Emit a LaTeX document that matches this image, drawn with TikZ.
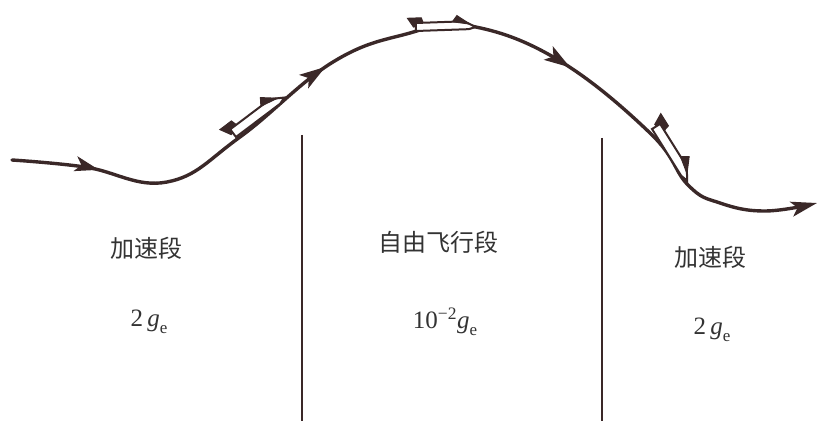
\documentclass[tikz,border=0pt]{standalone}
\usepackage{fontspec}
\setmainfont{Liberation Serif}
\newfontfamily\cjk{Noto Sans CJK SC}
\usetikzlibrary{decorations.markings,arrows.meta}
\definecolor{ink}{HTML}{3A2828}
\definecolor{txt}{HTML}{333333}
\newcommand\gsub{\textit{g}\raisebox{-0.3em}{\fontsize{17}{20}\selectfont e}}
\begin{document}
\begin{tikzpicture}[x=1pt,y=1pt,
  traj/.style={ink, line width=3.4pt, line cap=round},
  divider/.style={ink, line width=2pt},
  lbl/.style={txt, font=\cjk\fontsize{24}{28}\selectfont, inner sep=0},
  acc/.style={txt, font=\fontsize{25}{30}\selectfont, inner sep=0},
  rocketbody/.style={ink, line width=2pt, fill=white},
  fin/.style={ink, fill=ink, line width=1pt},
  rocket/.pic={
    \filldraw[fin] (-2,4) -- (-7,13) -- (5,13) -- (7,6) -- cycle;
    \draw[rocketbody] (0,0) -- (46,0) -- (52,2) -- (42,8) -- (0,8) -- cycle;
    \filldraw[fin] (32,8) -- (36,14) -- (47,5) -- cycle;
  }]
\useasboundingbox (0,0) rectangle (821,421);
\fill[white] (0,0) rectangle (821,421);

% trajectory
\draw[traj, -{Stealth[length=26pt,width=15pt,inset=6pt]}, postaction={decorate},
  decoration={markings,
    mark=at position 0.095 with {\arrow{Stealth[length=24pt,width=15pt,inset=6pt]}},
    mark=at position 0.385 with {\arrow{Stealth[length=26pt,width=16pt,inset=6pt]}},
    mark=at position 0.67 with {\arrow{Stealth[length=26pt,width=16pt,inset=6pt]}}}]
  plot[smooth, tension=0.7] coordinates {(12,261) (85,254) (167,239) (240,284) (333,359) (410,388) (465,396) (555,363) (650,288) (688,236) (720,218) (765,210) (817,218)};

% vehicles
\pic[rotate=37, scale=1.2] at (236,284) {rocket};
\pic[rotate=2, xscale=1.15] at (416,390) {rocket};
\pic[rotate=-58, scale=1.2] at (652,292) {rocket};

% dividers
\coordinate (d1top) at (302,286);
\coordinate (d1bot) at (302,0);
\coordinate (d2top) at (602,283);
\coordinate (d2bot) at (602,0);
\draw[divider] (d1top) -- (d1bot);
\draw[divider] (d2top) -- (d2bot);

% labels
\node[lbl] (accL) at (146,173) {加速段};
\node[acc] (gL) at (149,99) {2\,\gsub};
\node[lbl] (free) at (438,179) {自由飞行段};
\node[acc] (gF) at (445,99) {10\textsuperscript{−2}\gsub};
\node[lbl] (accR) at (710,164) {加速段};
\node[acc] (gR) at (712,91) {2\,\gsub};
\end{tikzpicture}
\end{document}
